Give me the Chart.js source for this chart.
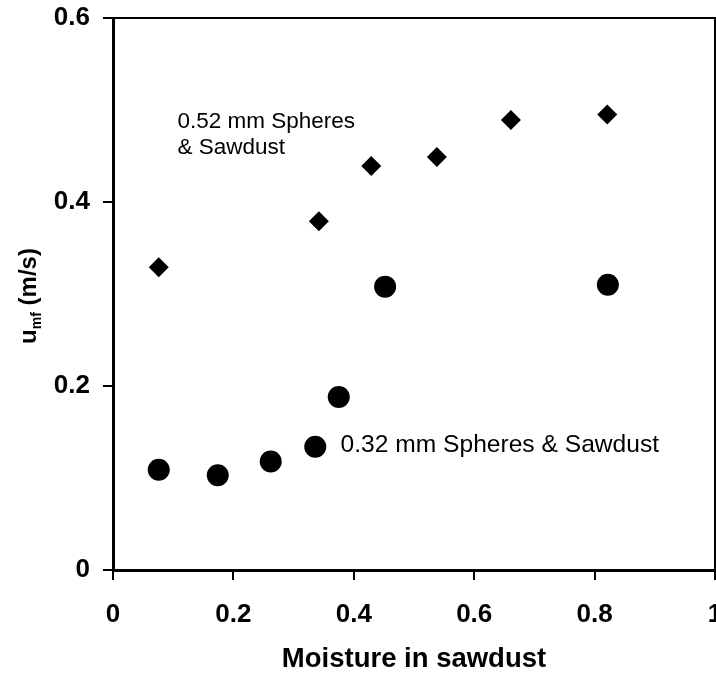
<!DOCTYPE html>
<html>
<head>
<meta charset="utf-8">
<script src="https://cdn.jsdelivr.net/npm/chart.js@4.4.1/dist/chart.umd.min.js"></script>
<style>
  html, body { margin: 0; padding: 0; background: #fff; }
  canvas { display: block; }
</style>
</head>
<body>
<canvas id="umfChart" width="716" height="673"></canvas>
<script>
// values
const moisture032 = [0.076, 0.174, 0.262, 0.336, 0.375, 0.452, 0.822];
const umf032 = [0.109, 0.103, 0.118, 0.134, 0.188, 0.308, 0.310];

const moisture052 = [0.076, 0.342, 0.429, 0.538, 0.661, 0.821];
const umf052 = [0.329, 0.379, 0.439, 0.449, 0.489, 0.495];

const xTicks = [0, 0.2, 0.4, 0.6, 0.8, 1];
const yTicks = [0, 0.2, 0.4, 0.6];

const FONT = '"Liberation Sans", Arial, Helvetica, sans-serif';

// in-plot labels, anchored in data units
const notes = [
    { lines: ['0.52 mm Spheres', '& Sawdust'], x: 0.107, y: 0.487, size: 22.5, lineGap: 26 },
    { lines: ['0.32 mm Spheres & Sawdust'], x: 0.378, y: 0.136, size: 24.6, lineGap: 28 },
];

const toPoints = (xs, ys) => xs.map((x, i) => ({ x: x, y: ys[i] }));
const fmt = v => String(Math.round(v * 10) / 10);

// frame on top/right, y title with subscript, text notes
const extras = {
    id: 'extras',
    afterDraw(chart) {
        const { ctx, chartArea: a, scales } = chart;
        ctx.save();
        ctx.strokeStyle = '#000';
        ctx.lineWidth = 2;
        ctx.beginPath();
        ctx.moveTo(a.left, a.top);
        ctx.lineTo(a.right, a.top);
        ctx.lineTo(a.right, a.bottom);
        ctx.stroke();

        ctx.fillStyle = '#000';
        ctx.textBaseline = 'middle';
        ctx.textAlign = 'left';
        notes.forEach(n => {
            const px = scales.x.getPixelForValue(n.x);
            const py = scales.y.getPixelForValue(n.y);
            ctx.font = n.size + 'px ' + FONT;
            n.lines.forEach((t, i) => ctx.fillText(t, px, py + i * n.lineGap));
        });

        // y axis title: u_mf (m/s)
        const big = 'bold 24px ' + FONT;
        const small = 'bold 14px ' + FONT;
        ctx.font = big;
        const wU = ctx.measureText('u').width;
        const wRest = ctx.measureText(' (m/s)').width;
        ctx.font = small;
        const wSub = ctx.measureText('mf').width;
        const total = wU + wSub + wRest;
        const cy = (a.top + a.bottom) / 2 + 2;
        ctx.translate(28, cy);
        ctx.rotate(-Math.PI / 2);
        ctx.textBaseline = 'alphabetic';
        let xx = -total / 2;
        ctx.font = big;
        ctx.fillText('u', xx, 8);
        xx += wU;
        ctx.font = small;
        ctx.fillText('mf', xx, 13);
        xx += wSub;
        ctx.font = big;
        ctx.fillText(' (m/s)', xx, 8);
        ctx.restore();
    }
};

new Chart(document.getElementById('umfChart'), {
    type: 'scatter',
    data: {
        datasets: [
            {
                label: '0.32 mm Spheres & Sawdust',
                data: toPoints(moisture032, umf032),
                pointStyle: 'circle',
                pointRadius: 11,
                pointBorderWidth: 0,
                backgroundColor: '#000',
                borderColor: '#000',
            },
            {
                label: '0.52 mm Spheres & Sawdust',
                data: toPoints(moisture052, umf052),
                pointStyle: 'rectRot',
                pointRadius: 10,
                pointBorderWidth: 0,
                backgroundColor: '#000',
                borderColor: '#000',
            }
        ]
    },
    options: {
        responsive: false,
        devicePixelRatio: 1,
        animation: false,
        layout: { autoPadding: false, padding: { left: 0, right: 1, top: 18, bottom: 0 } },
        plugins: {
            legend: { display: false },
            tooltip: { enabled: false },
        },
        scales: {
            x: {
                type: 'linear',
                position: 'bottom',
                min: 0,
                max: 1,
                afterBuildTicks: s => { s.ticks = xTicks.map(v => ({ value: v })); },
                afterFit: s => { s.height = 103; s.paddingLeft = 0; s.paddingRight = 0; },
                border: { display: true, color: '#000', width: 3 },
                grid: { display: true, drawOnChartArea: false, drawTicks: true, tickLength: 10, lineWidth: 2, color: '#000' },
                ticks: {
                    padding: 19,
                    color: '#000',
                    maxRotation: 0,
                    font: { family: FONT, size: 26, weight: 'bold' },
                    callback: v => fmt(v),
                },
                title: {
                    display: true,
                    text: 'Moisture in sawdust',
                    color: '#000',
                    padding: { top: 0, bottom: -3 },
                    font: { family: FONT, size: 27.5, weight: 'bold' },
                },
            },
            y: {
                type: 'linear',
                min: 0,
                max: 0.6,
                afterBuildTicks: s => { s.ticks = yTicks.map(v => ({ value: v })); },
                afterFit: s => { s.width = 113; s.paddingTop = 0; s.paddingBottom = 0; },
                border: { display: true, color: '#000', width: 3 },
                grid: { display: true, drawOnChartArea: false, drawTicks: true, tickLength: 10, lineWidth: 2, color: '#000' },
                ticks: {
                    padding: 13,
                    color: '#000',
                    font: { family: FONT, size: 26, weight: 'bold' },
                    callback: v => fmt(v),
                },
            },
        },
    },
    plugins: [extras],
});
</script>
</body>
</html>
